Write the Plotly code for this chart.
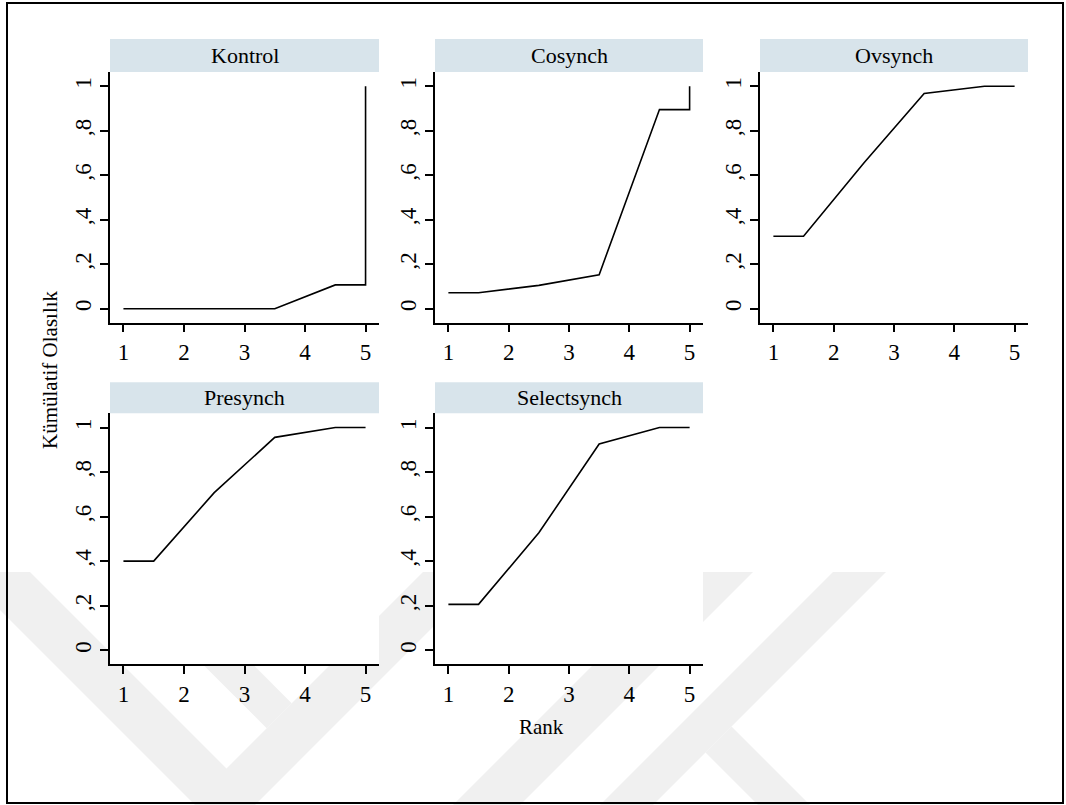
import plotly.graph_objects as go

W, H = 1066, 805

# Cumulative ranking probabilities per treatment group
panels = ["Kontrol", "Cosynch", "Ovsynch", "Presynch", "Selectsynch"]

rank_kontrol = [1, 1.5, 2.5, 3.5, 4.5, 5, 5]
prob_kontrol = [0, 0, 0, 0, 0.107, 0.107, 1]

rank_cosynch = [1, 1.5, 2.5, 3.5, 4.5, 5, 5]
prob_cosynch = [0.072, 0.072, 0.105, 0.153, 0.895, 0.895, 1]

rank_ovsynch = [1, 1.5, 2.5, 3.5, 4.5, 5]
prob_ovsynch = [0.326, 0.326, 0.655, 0.967, 1, 1]

rank_presynch = [1, 1.5, 2.5, 3.5, 4.5, 5]
prob_presynch = [0.401, 0.401, 0.708, 0.956, 1, 1]

rank_selectsynch = [1, 1.5, 2.5, 3.5, 4.5, 5]
prob_selectsynch = [0.207, 0.207, 0.528, 0.926, 1, 1]

series = [
    (rank_kontrol, prob_kontrol),
    (rank_cosynch, prob_cosynch),
    (rank_ovsynch, prob_ovsynch),
    (rank_presynch, prob_presynch),
    (rank_selectsynch, prob_selectsynch),
]

x_tickvals = [1, 2, 3, 4, 5]
x_ticktext = ["1", "2", "3", "4", "5"]
y_tickvals = [0, 0.2, 0.4, 0.6, 0.8, 1]
y_ticktext = ["0", ",2", ",4", ",6", ",8", "1"]

x_title = "Rank"
y_title = "Kümülatif Olasılık"

FONT = "Liberation Serif, Times New Roman, serif"
STRIP = "rgb(216,228,235)"
WM = "rgb(240,240,240)"


def px(x):
    return x / W


def py(y):
    return 1 - y / H


# grid geometry (pixels)
cols_px = [(110, 379), (435, 703), (760, 1028)]
rows_px = [(72, 322.5), (413.3, 664.3)]
strips_px = [(39, 72), (382.3, 413.3)]

fig = go.Figure()
layout = dict(
    width=W, height=H,
    margin=dict(l=0, r=0, t=0, b=0),
    paper_bgcolor="white",
    plot_bgcolor="white",
    showlegend=False,
    font=dict(family=FONT, size=21, color="black"),
)

shapes = []
annotations = []


def poly(points):
    d = "M " + " L ".join(f"{px(x):.5f},{py(y):.5f}" for x, y in points) + " Z"
    return dict(type="path", path=d, xref="paper", yref="paper",
                fillcolor=WM, line=dict(width=0), layer="below")


# faint background emblem
shapes.append(poly([(-38, 572), (30, 572), (226.5, 768.5), (423, 572),
                    (488, 572), (225, 835)]))
shapes.append(poly([(110.3, 572), (160.3, 572), (291.7, 703.3), (266.7, 728.3)]))
shapes.append(poly([(686, 572), (753, 572), (520, 805), (453, 805)]))
shapes.append(poly([(833, 572), (886, 572), (653, 805), (600, 805)]))
shapes.append(poly([(731.5, 726.5), (810, 805), (758, 805), (705.5, 752.5)]))

for i, name in enumerate(panels):
    r, c = divmod(i, 3)
    x0, x1 = cols_px[c]
    y0, y1 = rows_px[r]
    s0, s1 = strips_px[r]
    sfx = "" if i == 0 else str(i + 1)
    xa, ya = "xaxis" + sfx, "yaxis" + sfx

    layout[xa] = dict(
        domain=[px(x0), px(x1)], anchor="y" + sfx, range=[0.778, 5.222],
        tickmode="array", tickvals=x_tickvals, ticktext=x_ticktext,
        ticks="outside", ticklen=8, tickwidth=1.5, tickcolor="black",
        showline=True, linecolor="black", linewidth=1.8,
        showgrid=False, zeroline=False, fixedrange=True,
        tickfont=dict(family=FONT, size=23, color="black"),
    )
    layout[ya] = dict(
        domain=[py(y1), py(y0)], anchor="x" + sfx, range=[-0.062, 1.064],
        tickmode="array", tickvals=y_tickvals, ticktext=y_ticktext,
        tickangle=-90,
        ticks="outside", ticklen=8, tickwidth=1.5, tickcolor="black",
        showline=True, linecolor="black", linewidth=1.8,
        showgrid=False, zeroline=False, fixedrange=True,
        tickfont=dict(family=FONT, size=23, color="black"),
    )

    # opaque plot region over the emblem
    shapes.append(dict(type="rect", xref="paper", yref="paper",
                       x0=px(x0), x1=px(x1), y0=py(y1), y1=py(y0),
                       fillcolor="white", line=dict(width=0), layer="below"))
    # panel header strip
    shapes.append(dict(type="rect", xref="paper", yref="paper",
                       x0=px(x0), x1=px(x1), y0=py(s1), y1=py(s0),
                       fillcolor=STRIP, line=dict(width=0), layer="below"))
    annotations.append(dict(text=name, xref="paper", yref="paper",
                            x=px((x0 + x1) / 2), y=py((s0 + s1) / 2),
                            xanchor="center", yanchor="middle", showarrow=False,
                            font=dict(family=FONT, size=22, color="black")))

    xs, ys = series[i]
    fig.add_trace(go.Scatter(x=xs, y=ys, mode="lines",
                             line=dict(color="black", width=1.6),
                             xaxis="x" + sfx, yaxis="y" + sfx,
                             hoverinfo="x+y"))

# outer frame
shapes.append(dict(type="rect", xref="paper", yref="paper",
                   x0=px(7), x1=px(1063), y0=py(803), y1=py(3),
                   line=dict(color="black", width=2), fillcolor="rgba(0,0,0,0)",
                   layer="above"))

annotations.append(dict(text=x_title, xref="paper", yref="paper",
                        x=px(541.7), y=py(727), xanchor="center", yanchor="middle",
                        showarrow=False, font=dict(family=FONT, size=21, color="black")))
annotations.append(dict(text=y_title, xref="paper", yref="paper",
                        x=px(50), y=py(370), xanchor="center", yanchor="middle",
                        textangle=-90, showarrow=False,
                        font=dict(family=FONT, size=21, color="black")))

layout["shapes"] = shapes
layout["annotations"] = annotations
fig.update_layout(**layout)

fig.write_html("out.html")
